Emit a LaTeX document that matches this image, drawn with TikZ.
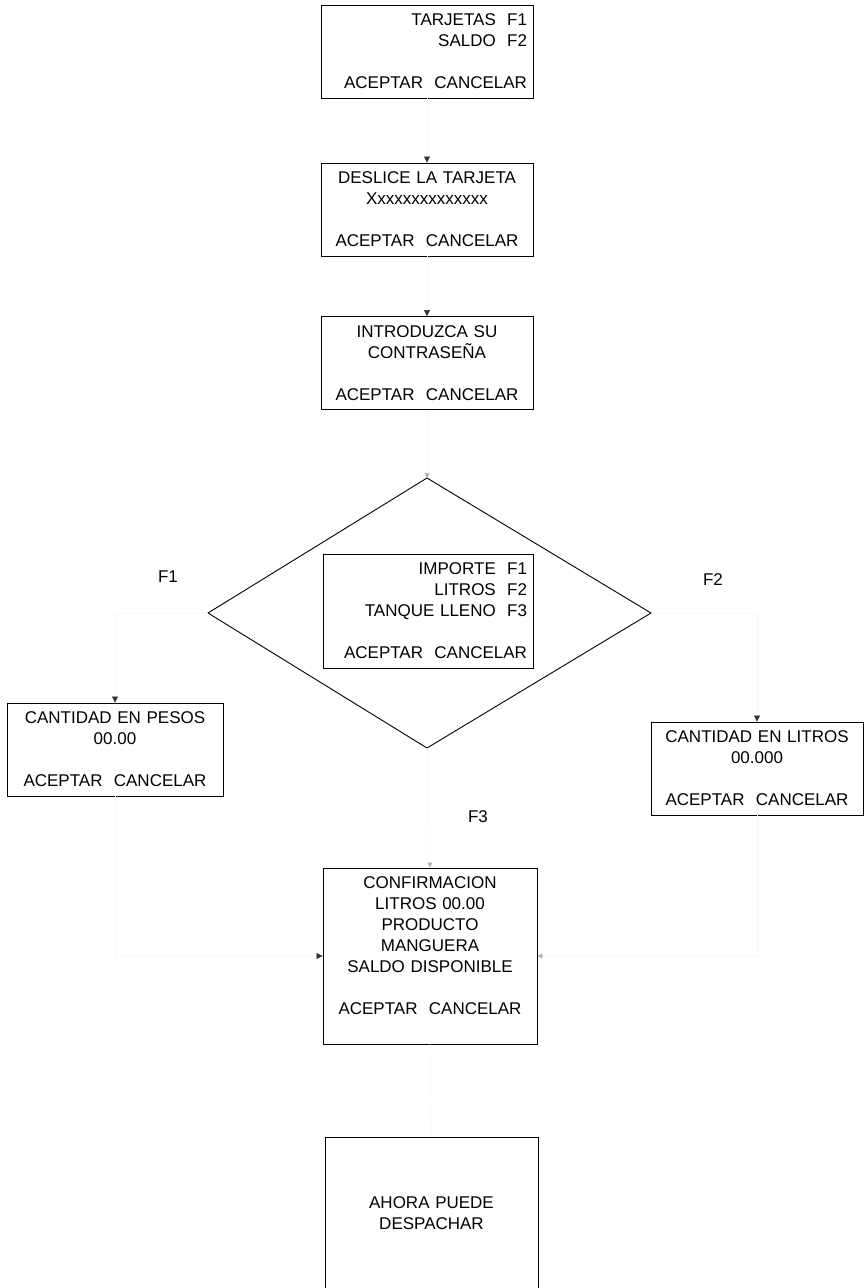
\documentclass[tikz,border=0pt]{standalone}
\usepackage{fontspec}
\setmainfont{Liberation Sans}
\usetikzlibrary{arrows.meta}
\begin{document}
\begin{tikzpicture}[x=1pt,y=-1pt,
  screen/.style={draw=black, line width=0.9pt, fill=white, inner xsep=6pt, inner ysep=0pt,
    font=\fontsize{17}{21}\selectfont, minimum height=93pt, text width=200pt, align=center},
  screenR/.style={screen, align=right},
  key/.style={font=\fontsize{17}{21}\selectfont},
  link/.style={draw=black!3, line width=0.6pt,
    -{Triangle[length=6pt,width=6pt,color=black!80]}},
  faintlink/.style={draw=black!3, line width=0.6pt,
    -{Triangle[length=5pt,width=5pt,color=black!30]}},
]
\path[use as bounding box] (0,0) rectangle (864,1288);

% menu screens
\node[screenR] (menu) at (427,51.5) {TARJETAS~~F1\\SALDO~~F2\\[21pt]ACEPTAR~~CANCELAR};
\node[screen] (swipe) at (427,209.5) {DESLICE LA TARJETA\\Xxxxxxxxxxxxxx\\[21pt]ACEPTAR~~CANCELAR};
\node[screen] (pin) at (427,363) {INTRODUZCA SU\\CONTRASEÑA\\[21pt]ACEPTAR~~CANCELAR};

% decision diamond with the option screen inside
\coordinate (dt) at (427,478);
\coordinate (dr) at (651,613);
\coordinate (db) at (427,748);
\coordinate (dl) at (208,613);
\draw[line width=0.9pt] (dt) -- (dr) -- (db) -- (dl) -- cycle;
\node[screenR, text width=198pt, minimum height=114pt] (opts) at (428,611)
  {IMPORTE~~F1\\LITROS~~F2\\TANQUE LLENO~~F3\\[21pt]ACEPTAR~~CANCELAR};

\node[key] (kF1) at (168,577) {F1};
\node[key] (kF2) at (713,580) {F2};
\node[key] (kF3) at (478,817) {F3};

% amount screens
\node[screen, text width=204pt] (pesos) at (115,749.5) {CANTIDAD EN PESOS\\00.00\\[21pt]ACEPTAR~~CANCELAR};
\node[screen] (litros) at (757,768.5) {CANTIDAD EN LITROS\\00.000\\[21pt]ACEPTAR~~CANCELAR};

% confirmation screen (text sits a little above the middle) and final screen
\node[screen, text width=202pt, minimum height=176pt] (conf) at (430,956)
  {CONFIRMACION\\LITROS 00.00\\PRODUCTO\\MANGUERA\\SALDO DISPONIBLE\\[21pt]ACEPTAR~~CANCELAR\\[-1pt]\mbox{}};
\node[screen, text width=201pt, minimum height=152pt] (done) at (431.5,1213)
  {AHORA PUEDE\\DESPACHAR};

% connectors
\draw[link] (menu.south) -- (swipe.north);
\draw[link] (swipe.south) -- (pin.north);
\draw[faintlink] (pin.south) -- (dt);
\draw[link] (dl) -| (pesos.north);
\draw[link] (dr) -| (litros.north);
\draw[faintlink] (db) -- (conf.north);
\draw[link] (pesos.south) |- (conf.west);
\draw[faintlink] (litros.south) |- (conf.east);
\draw[draw=black!3, line width=0.6pt] (conf.south) -- (done.north);
\end{tikzpicture}
\end{document}
